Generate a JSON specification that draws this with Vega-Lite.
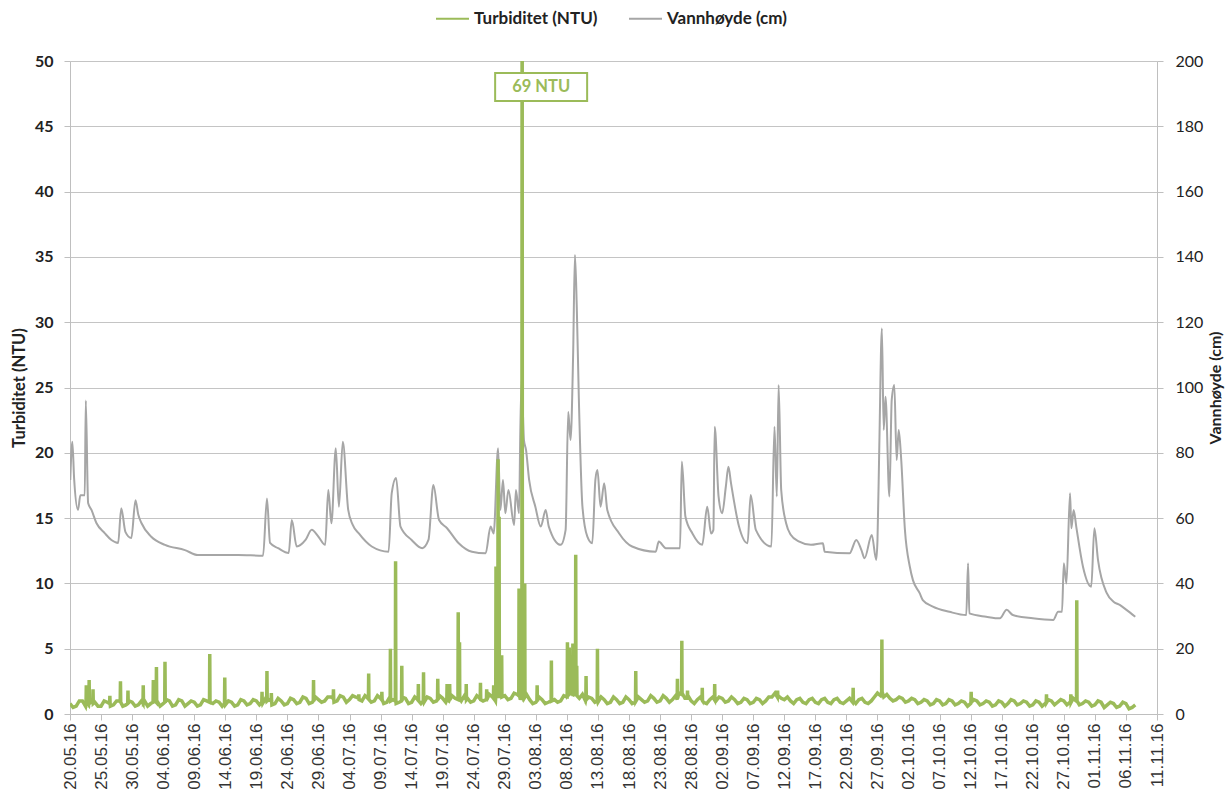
{
"$schema":"https://vega.github.io/schema/vega-lite/v6.json",
"width":1087,"height":653,
"autosize":{"type":"none"},
"padding":{"left":70,"top":61,"right":69,"bottom":82},
"background":"white",
"config":{"view":{"stroke":null},"axis":{"labelFont":"Lato","titleFont":"Lato","domainColor":"#BFBFBF","tickColor":"#BFBFBF","gridColor":"#C4C4C4","labelColor":"#222","titleColor":"#222"},
 "axisX":{"labelOverlap":false,"labelAngle":270,"labelFont":"Liberation Sans","labelFontSize":17,"labelColor":"#333","tickSize":6,"labelPadding":3,"grid":false,"labelFlush":false,"title":null}},
"datasets":{
"vann":[
{"t":"2016-05-20T01:00","v":71.7},{"t":"2016-05-20T09:00","v":83.4},{"t":"2016-05-20T16:00","v":72},{"t":"2016-05-21T07:00","v":62.5},{"t":"2016-05-21T16:00","v":67},{"t":"2016-05-22T09:00","v":67},{"t":"2016-05-22T13:00","v":96},{"t":"2016-05-22T22:00","v":64.6},{"t":"2016-05-23T11:00","v":62.5},{"t":"2016-05-24T06:00","v":58.5},{"t":"2016-05-25T14:00","v":55.4},{"t":"2016-05-26T16:00","v":53.3},{"t":"2016-05-27T18:00","v":52.4},{"t":"2016-05-28T06:00","v":63},{"t":"2016-05-28T22:00","v":55.8},{"t":"2016-05-29T21:00","v":53.9},{"t":"2016-05-30T13:00","v":65.5},{"t":"2016-05-31T00:00","v":61},{"t":"2016-05-31T12:00","v":58.5},{"t":"2016-06-02T02:00","v":54.3},{"t":"2016-06-04T07:00","v":51.8},{"t":"2016-06-07T12:00","v":50.2},{"t":"2016-06-09T14:00","v":48.7},{"t":"2016-06-16T02:00","v":48.7},{"t":"2016-06-20T02:00","v":48.5},{"t":"2016-06-20T17:00","v":66},{"t":"2016-06-21T05:00","v":52.4},{"t":"2016-06-22T12:00","v":50.8},{"t":"2016-06-24T05:00","v":49.3},{"t":"2016-06-24T17:00","v":59.4},{"t":"2016-06-25T12:00","v":51.3},{"t":"2016-06-26T22:00","v":53.3},{"t":"2016-06-27T22:00","v":56.4},{"t":"2016-06-29T00:00","v":54.3},{"t":"2016-06-30T02:00","v":51.8},{"t":"2016-06-30T14:00","v":68.6},{"t":"2016-07-01T02:00","v":58.4},{"t":"2016-07-01T19:00","v":81.4},{"t":"2016-07-02T07:00","v":63.5},{"t":"2016-07-02T22:00","v":83.4},{"t":"2016-07-03T19:00","v":62.5},{"t":"2016-07-04T12:00","v":58},{"t":"2016-07-05T12:00","v":55.3},{"t":"2016-07-07T14:00","v":51.3},{"t":"2016-07-10T07:00","v":49.7},{"t":"2016-07-10T19:00","v":67.6},{"t":"2016-07-11T12:00","v":72.3},{"t":"2016-07-12T05:00","v":57.4},{"t":"2016-07-14T00:00","v":53.3},{"t":"2016-07-15T17:00","v":50.8},{"t":"2016-07-16T17:00","v":53.3},{"t":"2016-07-17T12:00","v":70.1},{"t":"2016-07-18T10:00","v":59.4},{"t":"2016-07-19T17:00","v":56.9},{"t":"2016-07-21T14:00","v":52.3},{"t":"2016-07-23T17:00","v":49.7},{"t":"2016-07-25T22:00","v":49.2},{"t":"2016-07-26T17:00","v":57.4},{"t":"2016-07-27T05:00","v":55.3},{"t":"2016-07-27T22:00","v":81.4},{"t":"2016-07-28T07:00","v":62.5},{"t":"2016-07-28T17:00","v":71.7},{"t":"2016-07-29T02:00","v":61.5},{"t":"2016-07-29T14:00","v":68.6},{"t":"2016-07-30T12:00","v":57.9},{"t":"2016-07-30T19:00","v":68.6},{"t":"2016-07-31T07:00","v":61.5},{"t":"2016-07-31T12:00","v":87},{"t":"2016-07-31T17:00","v":102},{"t":"2016-08-01T02:00","v":83.9},{"t":"2016-08-01T10:00","v":80.9},{"t":"2016-08-01T22:00","v":71.7},{"t":"2016-08-02T22:00","v":63.5},{"t":"2016-08-03T19:00","v":57.4},{"t":"2016-08-04T14:00","v":62.5},{"t":"2016-08-05T02:00","v":57.4},{"t":"2016-08-07T00:00","v":51.8},{"t":"2016-08-07T19:00","v":56.4},{"t":"2016-08-08T05:00","v":92.6},{"t":"2016-08-08T14:00","v":83.9},{"t":"2016-08-09T00:00","v":110},{"t":"2016-08-09T07:00","v":140.6},{"t":"2016-08-09T14:00","v":125},{"t":"2016-08-09T22:00","v":97},{"t":"2016-08-10T12:00","v":63.5},{"t":"2016-08-11T07:00","v":54.3},{"t":"2016-08-12T02:00","v":52.3},{"t":"2016-08-12T14:00","v":71.7},{"t":"2016-08-12T22:00","v":74.7},{"t":"2016-08-13T10:00","v":63.5},{"t":"2016-08-14T00:00","v":70.7},{"t":"2016-08-14T12:00","v":62.5},{"t":"2016-08-16T10:00","v":55.3},{"t":"2016-08-18T12:00","v":51.3},{"t":"2016-08-22T07:00","v":49.7},{"t":"2016-08-22T19:00","v":52.8},{"t":"2016-08-23T22:00","v":50.8},{"t":"2016-08-26T05:00","v":50.8},{"t":"2016-08-26T12:00","v":77.3},{"t":"2016-08-27T02:00","v":60.4},{"t":"2016-08-28T05:00","v":55.3},{"t":"2016-08-29T19:00","v":51.8},{"t":"2016-08-30T14:00","v":63.5},{"t":"2016-08-31T05:00","v":55.3},{"t":"2016-08-31T14:00","v":56.4},{"t":"2016-08-31T19:00","v":88},{"t":"2016-09-01T10:00","v":66.6},{"t":"2016-09-02T00:00","v":61.5},{"t":"2016-09-02T14:00","v":69.6},{"t":"2016-09-03T00:00","v":75.7},{"t":"2016-09-03T10:00","v":70.7},{"t":"2016-09-04T17:00","v":57.4},{"t":"2016-09-06T02:00","v":52.3},{"t":"2016-09-06T14:00","v":67.1},{"t":"2016-09-07T10:00","v":56.4},{"t":"2016-09-09T22:00","v":51.3},{"t":"2016-09-10T10:00","v":88},{"t":"2016-09-10T19:00","v":66.6},{"t":"2016-09-11T02:00","v":100.8},{"t":"2016-09-11T12:00","v":68.6},{"t":"2016-09-12T07:00","v":58.4},{"t":"2016-09-13T00:00","v":55},{"t":"2016-09-14T10:00","v":52.8},{"t":"2016-09-16T07:00","v":51.8},{"t":"2016-09-18T05:00","v":52.3},{"t":"2016-09-18T12:00","v":49.7},{"t":"2016-09-22T12:00","v":49.2},{"t":"2016-09-23T14:00","v":53.3},{"t":"2016-09-24T10:00","v":50.2},{"t":"2016-09-24T22:00","v":47.7},{"t":"2016-09-26T02:00","v":54.8},{"t":"2016-09-26T19:00","v":47.2},{"t":"2016-09-27T00:00","v":53.3},{"t":"2016-09-27T07:00","v":81.9},{"t":"2016-09-27T17:00","v":118.1},{"t":"2016-09-28T00:00","v":87},{"t":"2016-09-28T07:00","v":97.2},{"t":"2016-09-28T22:00","v":66.6},{"t":"2016-09-29T07:00","v":96.2},{"t":"2016-09-29T17:00","v":100.8},{"t":"2016-09-30T02:00","v":77.8},{"t":"2016-09-30T10:00","v":87},{"t":"2016-09-30T19:00","v":78.8},{"t":"2016-10-01T10:00","v":56.4},{"t":"2016-10-02T05:00","v":45.1},{"t":"2016-10-02T17:00","v":41},{"t":"2016-10-03T19:00","v":37},{"t":"2016-10-04T07:00","v":34.9},{"t":"2016-10-05T22:00","v":32.9},{"t":"2016-10-08T14:00","v":31.3},{"t":"2016-10-11T07:00","v":30.3},{"t":"2016-10-11T14:00","v":46.2},{"t":"2016-10-11T19:00","v":30.8},{"t":"2016-10-14T12:00","v":29.8},{"t":"2016-10-16T17:00","v":29.3},{"t":"2016-10-17T19:00","v":31.9},{"t":"2016-10-18T19:00","v":30.3},{"t":"2016-10-22T00:00","v":29.3},{"t":"2016-10-25T07:00","v":28.8},{"t":"2016-10-26T02:00","v":31.3},{"t":"2016-10-26T17:00","v":31.3},{"t":"2016-10-27T00:00","v":46.2},{"t":"2016-10-27T10:00","v":40},{"t":"2016-10-28T00:00","v":67.6},{"t":"2016-10-28T05:00","v":56.9},{"t":"2016-10-28T14:00","v":62.5},{"t":"2016-10-29T00:00","v":57.4},{"t":"2016-10-30T02:00","v":45.1},{"t":"2016-10-31T10:00","v":39},{"t":"2016-10-31T22:00","v":56.9},{"t":"2016-11-01T12:00","v":47.2},{"t":"2016-11-02T22:00","v":37},{"t":"2016-11-04T00:00","v":34.4},{"t":"2016-11-05T00:00","v":33.4},{"t":"2016-11-06T02:00","v":31.9},{"t":"2016-11-07T12:00","v":29.8}
],
"turb":[
{"t":"2016-05-20T00:00","v":0.8},{"t":"2016-05-21T00:00","v":0.6},{"t":"2016-05-22T00:00","v":1.0},{"t":"2016-05-23T00:00","v":0.7},{"t":"2016-05-24T00:00","v":0.9},{"t":"2016-05-25T00:00","v":0.6},{"t":"2016-05-26T00:00","v":0.9},{"t":"2016-05-27T00:00","v":0.7},{"t":"2016-05-28T00:00","v":1.0},{"t":"2016-05-29T00:00","v":0.7},{"t":"2016-05-30T00:00","v":0.9},{"t":"2016-05-31T00:00","v":0.7},
{"t":"2016-06-01T00:00","v":1.0},{"t":"2016-06-02T00:00","v":0.8},{"t":"2016-06-03T00:00","v":1.0},{"t":"2016-06-04T00:00","v":0.8},{"t":"2016-06-05T00:00","v":1.0},{"t":"2016-06-06T00:00","v":0.7},{"t":"2016-06-07T00:00","v":1.0},{"t":"2016-06-08T00:00","v":0.8},{"t":"2016-06-09T00:00","v":0.9},{"t":"2016-06-10T00:00","v":0.7},{"t":"2016-06-11T00:00","v":1.0},{"t":"2016-06-12T00:00","v":0.8},{"t":"2016-06-13T00:00","v":0.9},{"t":"2016-06-14T00:00","v":0.7},{"t":"2016-06-15T00:00","v":0.9},{"t":"2016-06-16T00:00","v":0.7},{"t":"2016-06-17T00:00","v":1.0},{"t":"2016-06-18T00:00","v":0.8},{"t":"2016-06-19T00:00","v":1.0},{"t":"2016-06-20T00:00","v":0.8},{"t":"2016-06-21T00:00","v":1.1},{"t":"2016-06-22T00:00","v":0.8},{"t":"2016-06-23T00:00","v":1.0},{"t":"2016-06-24T00:00","v":0.8},{"t":"2016-06-25T00:00","v":1.1},{"t":"2016-06-26T00:00","v":0.9},{"t":"2016-06-27T00:00","v":1.2},{"t":"2016-06-28T00:00","v":0.9},{"t":"2016-06-29T00:00","v":1.1},{"t":"2016-06-30T00:00","v":1.0},
{"t":"2016-07-01T00:00","v":1.3},{"t":"2016-07-02T00:00","v":1.0},{"t":"2016-07-03T00:00","v":1.3},{"t":"2016-07-04T00:00","v":1.1},{"t":"2016-07-05T00:00","v":1.3},{"t":"2016-07-06T00:00","v":1.0},{"t":"2016-07-07T00:00","v":1.2},{"t":"2016-07-08T00:00","v":1.0},{"t":"2016-07-09T00:00","v":1.2},{"t":"2016-07-10T00:00","v":0.9},{"t":"2016-07-11T00:00","v":1.1},{"t":"2016-07-12T00:00","v":0.9},{"t":"2016-07-13T00:00","v":1.2},{"t":"2016-07-14T00:00","v":0.9},{"t":"2016-07-15T00:00","v":1.1},{"t":"2016-07-16T00:00","v":0.9},{"t":"2016-07-17T00:00","v":1.2},{"t":"2016-07-18T00:00","v":1.0},{"t":"2016-07-19T00:00","v":1.2},{"t":"2016-07-20T00:00","v":1.0},{"t":"2016-07-21T00:00","v":1.2},{"t":"2016-07-22T00:00","v":1.0},{"t":"2016-07-23T00:00","v":1.2},{"t":"2016-07-24T00:00","v":1.0},{"t":"2016-07-25T00:00","v":1.2},{"t":"2016-07-26T00:00","v":1.1},{"t":"2016-07-27T00:00","v":1.3},{"t":"2016-07-28T00:00","v":1.2},{"t":"2016-07-29T00:00","v":1.4},{"t":"2016-07-30T00:00","v":1.2},{"t":"2016-07-31T00:00","v":1.5},
{"t":"2016-08-01T00:00","v":1.2},{"t":"2016-08-02T00:00","v":1.1},{"t":"2016-08-03T00:00","v":0.9},{"t":"2016-08-04T00:00","v":1.1},{"t":"2016-08-05T00:00","v":0.9},{"t":"2016-08-06T00:00","v":1.1},{"t":"2016-08-07T00:00","v":1.0},{"t":"2016-08-08T00:00","v":1.3},{"t":"2016-08-09T00:00","v":1.5},{"t":"2016-08-10T00:00","v":1.2},{"t":"2016-08-11T00:00","v":1.0},{"t":"2016-08-12T00:00","v":1.2},{"t":"2016-08-13T00:00","v":0.9},{"t":"2016-08-14T00:00","v":1.1},{"t":"2016-08-15T00:00","v":0.9},{"t":"2016-08-16T00:00","v":1.1},{"t":"2016-08-17T00:00","v":0.9},{"t":"2016-08-18T00:00","v":1.1},{"t":"2016-08-19T00:00","v":0.9},{"t":"2016-08-20T00:00","v":1.1},{"t":"2016-08-21T00:00","v":1.0},{"t":"2016-08-22T00:00","v":1.2},{"t":"2016-08-23T00:00","v":1.0},{"t":"2016-08-24T00:00","v":1.2},{"t":"2016-08-25T00:00","v":1.1},{"t":"2016-08-26T00:00","v":1.6},{"t":"2016-08-27T00:00","v":1.2},{"t":"2016-08-28T00:00","v":1.0},{"t":"2016-08-29T00:00","v":1.1},{"t":"2016-08-30T00:00","v":0.9},{"t":"2016-08-31T00:00","v":1.1},
{"t":"2016-09-01T00:00","v":1.0},{"t":"2016-09-02T00:00","v":1.2},{"t":"2016-09-03T00:00","v":1.0},{"t":"2016-09-04T00:00","v":1.1},{"t":"2016-09-05T00:00","v":0.9},{"t":"2016-09-06T00:00","v":1.1},{"t":"2016-09-07T00:00","v":0.9},{"t":"2016-09-08T00:00","v":1.1},{"t":"2016-09-09T00:00","v":1.0},{"t":"2016-09-10T00:00","v":1.3},{"t":"2016-09-11T00:00","v":1.4},{"t":"2016-09-12T00:00","v":1.1},{"t":"2016-09-13T00:00","v":1.0},{"t":"2016-09-14T00:00","v":1.1},{"t":"2016-09-15T00:00","v":0.9},{"t":"2016-09-16T00:00","v":1.1},{"t":"2016-09-17T00:00","v":0.9},{"t":"2016-09-18T00:00","v":1.1},{"t":"2016-09-19T00:00","v":0.9},{"t":"2016-09-20T00:00","v":1.1},{"t":"2016-09-21T00:00","v":0.9},{"t":"2016-09-22T00:00","v":1.0},{"t":"2016-09-23T00:00","v":0.9},{"t":"2016-09-24T00:00","v":1.1},{"t":"2016-09-25T00:00","v":0.9},{"t":"2016-09-26T00:00","v":1.0},{"t":"2016-09-27T00:00","v":1.6},{"t":"2016-09-28T00:00","v":1.3},{"t":"2016-09-29T00:00","v":1.2},{"t":"2016-09-30T00:00","v":1.1},
{"t":"2016-10-01T00:00","v":1.2},{"t":"2016-10-02T00:00","v":1.0},{"t":"2016-10-03T00:00","v":1.1},{"t":"2016-10-04T00:00","v":0.9},{"t":"2016-10-05T00:00","v":1.0},{"t":"2016-10-06T00:00","v":0.8},{"t":"2016-10-07T00:00","v":1.0},{"t":"2016-10-08T00:00","v":0.8},{"t":"2016-10-09T00:00","v":1.0},{"t":"2016-10-10T00:00","v":0.8},{"t":"2016-10-11T00:00","v":0.9},{"t":"2016-10-12T00:00","v":0.8},{"t":"2016-10-13T00:00","v":1.0},{"t":"2016-10-14T00:00","v":0.8},{"t":"2016-10-15T00:00","v":0.9},{"t":"2016-10-16T00:00","v":0.7},{"t":"2016-10-17T00:00","v":0.9},{"t":"2016-10-18T00:00","v":0.8},{"t":"2016-10-19T00:00","v":1.0},{"t":"2016-10-20T00:00","v":0.8},{"t":"2016-10-21T00:00","v":0.9},{"t":"2016-10-22T00:00","v":0.7},{"t":"2016-10-23T00:00","v":0.9},{"t":"2016-10-24T00:00","v":0.8},{"t":"2016-10-25T00:00","v":1.0},{"t":"2016-10-26T00:00","v":0.9},{"t":"2016-10-27T00:00","v":1.0},{"t":"2016-10-28T00:00","v":0.9},{"t":"2016-10-29T00:00","v":1.0},{"t":"2016-10-30T00:00","v":0.8},{"t":"2016-10-31T00:00","v":0.9},
{"t":"2016-11-01T00:00","v":0.7},{"t":"2016-11-02T00:00","v":0.9},{"t":"2016-11-03T00:00","v":0.7},{"t":"2016-11-04T00:00","v":0.8},{"t":"2016-11-05T00:00","v":0.6},{"t":"2016-11-06T00:00","v":0.8},{"t":"2016-11-07T00:00","v":0.5},{"t":"2016-11-07T12:00","v":0.7},
{"t":"2016-05-20T12:00","v":0.5},{"t":"2016-05-21T12:00","v":1.0},{"t":"2016-05-22T12:00","v":0.6},{"t":"2016-05-23T12:00","v":1.0},{"t":"2016-05-24T12:00","v":0.6},{"t":"2016-05-25T12:00","v":1.0},{"t":"2016-05-26T12:00","v":0.6},{"t":"2016-05-27T12:00","v":1.0},{"t":"2016-05-28T12:00","v":0.6},{"t":"2016-05-29T12:00","v":1.0},{"t":"2016-05-30T12:00","v":0.6},{"t":"2016-05-31T12:00","v":1.0},
{"t":"2016-06-01T12:00","v":0.6},{"t":"2016-06-02T12:00","v":1.1},{"t":"2016-06-03T12:00","v":0.6},{"t":"2016-06-04T12:00","v":1.1},{"t":"2016-06-05T12:00","v":0.6},{"t":"2016-06-06T12:00","v":1.1},{"t":"2016-06-07T12:00","v":0.6},{"t":"2016-06-08T12:00","v":1.0},{"t":"2016-06-09T12:00","v":0.6},{"t":"2016-06-10T12:00","v":1.1},{"t":"2016-06-12T12:00","v":1.0},{"t":"2016-06-13T12:00","v":0.6},{"t":"2016-06-14T12:00","v":1.0},{"t":"2016-06-15T12:00","v":0.6},{"t":"2016-06-16T12:00","v":1.1},{"t":"2016-06-17T12:00","v":0.7},{"t":"2016-06-18T12:00","v":1.1},{"t":"2016-06-19T12:00","v":0.7},{"t":"2016-06-20T12:00","v":1.2},{"t":"2016-06-21T12:00","v":0.7},{"t":"2016-06-22T12:00","v":1.2},{"t":"2016-06-23T12:00","v":0.7},{"t":"2016-06-24T12:00","v":1.2},{"t":"2016-06-25T12:00","v":0.8},{"t":"2016-06-26T12:00","v":1.3},{"t":"2016-06-27T12:00","v":0.8},{"t":"2016-06-28T12:00","v":1.3},{"t":"2016-06-29T12:00","v":0.9},{"t":"2016-06-30T12:00","v":1.3},
{"t":"2016-07-01T12:00","v":0.9},{"t":"2016-07-02T12:00","v":1.4},{"t":"2016-07-03T12:00","v":0.9},{"t":"2016-07-04T12:00","v":1.4},{"t":"2016-07-06T12:00","v":1.4},{"t":"2016-07-07T12:00","v":0.9},{"t":"2016-07-08T12:00","v":1.4},{"t":"2016-07-09T12:00","v":0.8},{"t":"2016-07-10T12:00","v":1.3},{"t":"2016-07-11T12:00","v":0.8},{"t":"2016-07-12T12:00","v":1.3},{"t":"2016-07-13T12:00","v":0.8},{"t":"2016-07-14T12:00","v":1.3},{"t":"2016-07-15T12:00","v":0.8},{"t":"2016-07-16T12:00","v":1.3},{"t":"2016-07-17T12:00","v":0.9},{"t":"2016-07-18T12:00","v":1.4},{"t":"2016-07-19T12:00","v":0.9},{"t":"2016-07-20T12:00","v":1.4},{"t":"2016-07-22T12:00","v":1.4},{"t":"2016-07-23T12:00","v":0.9},{"t":"2016-07-24T12:00","v":1.4},{"t":"2016-07-25T12:00","v":1.0},{"t":"2016-07-26T12:00","v":1.5},{"t":"2016-07-27T12:00","v":1.0},{"t":"2016-07-29T12:00","v":1.1},{"t":"2016-07-30T12:00","v":1.6},{"t":"2016-07-31T12:00","v":1.1},
{"t":"2016-08-01T12:00","v":1.5},{"t":"2016-08-02T12:00","v":0.8},{"t":"2016-08-03T12:00","v":1.3},{"t":"2016-08-04T12:00","v":0.8},{"t":"2016-08-06T12:00","v":0.9},{"t":"2016-08-07T12:00","v":1.4},{"t":"2016-08-08T12:00","v":1.6},{"t":"2016-08-10T12:00","v":1.5},{"t":"2016-08-11T12:00","v":1.3},{"t":"2016-08-12T12:00","v":0.9},{"t":"2016-08-13T12:00","v":1.3},{"t":"2016-08-14T12:00","v":0.8},{"t":"2016-08-15T12:00","v":1.3},{"t":"2016-08-16T12:00","v":0.8},{"t":"2016-08-17T12:00","v":1.3},{"t":"2016-08-18T12:00","v":0.8},{"t":"2016-08-19T12:00","v":1.3},{"t":"2016-08-20T12:00","v":0.9},{"t":"2016-08-21T12:00","v":1.4},{"t":"2016-08-22T12:00","v":0.9},{"t":"2016-08-23T12:00","v":1.4},{"t":"2016-08-24T12:00","v":0.9},{"t":"2016-08-25T12:00","v":1.4},{"t":"2016-08-27T12:00","v":1.4},{"t":"2016-08-28T12:00","v":0.8},{"t":"2016-08-29T12:00","v":1.3},{"t":"2016-08-30T12:00","v":0.8},{"t":"2016-08-31T12:00","v":1.3},
{"t":"2016-09-01T12:00","v":1.3},{"t":"2016-09-02T12:00","v":0.9},{"t":"2016-09-03T12:00","v":1.3},{"t":"2016-09-04T12:00","v":0.8},{"t":"2016-09-05T12:00","v":1.2},{"t":"2016-09-06T12:00","v":0.8},{"t":"2016-09-07T12:00","v":1.2},{"t":"2016-09-08T12:00","v":0.8},{"t":"2016-09-09T12:00","v":1.3},{"t":"2016-09-10T12:00","v":1.6},{"t":"2016-09-11T12:00","v":1.2},{"t":"2016-09-12T12:00","v":1.3},{"t":"2016-09-13T12:00","v":0.8},{"t":"2016-09-14T12:00","v":1.2},{"t":"2016-09-15T12:00","v":0.8},{"t":"2016-09-16T12:00","v":1.2},{"t":"2016-09-17T12:00","v":0.8},{"t":"2016-09-18T12:00","v":1.2},{"t":"2016-09-19T12:00","v":0.8},{"t":"2016-09-20T12:00","v":1.2},{"t":"2016-09-21T12:00","v":0.8},{"t":"2016-09-22T12:00","v":1.2},{"t":"2016-09-23T12:00","v":0.8},{"t":"2016-09-24T12:00","v":1.2},{"t":"2016-09-25T12:00","v":0.8},{"t":"2016-09-26T12:00","v":1.3},{"t":"2016-09-27T12:00","v":1.4},{"t":"2016-09-28T12:00","v":1.5},{"t":"2016-09-29T12:00","v":1.0},{"t":"2016-09-30T12:00","v":1.3},
{"t":"2016-10-01T12:00","v":0.9},{"t":"2016-10-02T12:00","v":1.2},{"t":"2016-10-03T12:00","v":0.8},{"t":"2016-10-04T12:00","v":1.1},{"t":"2016-10-05T12:00","v":0.7},{"t":"2016-10-06T12:00","v":1.1},{"t":"2016-10-07T12:00","v":0.7},{"t":"2016-10-08T12:00","v":1.1},{"t":"2016-10-09T12:00","v":0.7},{"t":"2016-10-10T12:00","v":1.0},{"t":"2016-10-11T12:00","v":0.6},{"t":"2016-10-12T12:00","v":1.1},{"t":"2016-10-13T12:00","v":0.7},{"t":"2016-10-14T12:00","v":1.0},{"t":"2016-10-15T12:00","v":0.6},{"t":"2016-10-16T12:00","v":1.0},{"t":"2016-10-17T12:00","v":0.6},{"t":"2016-10-18T12:00","v":1.1},{"t":"2016-10-19T12:00","v":0.7},{"t":"2016-10-20T12:00","v":1.0},{"t":"2016-10-21T12:00","v":0.6},{"t":"2016-10-22T12:00","v":1.0},{"t":"2016-10-23T12:00","v":0.6},{"t":"2016-10-24T12:00","v":1.1},{"t":"2016-10-25T12:00","v":0.7},{"t":"2016-10-26T12:00","v":1.1},{"t":"2016-10-27T12:00","v":0.7},{"t":"2016-10-28T12:00","v":1.2},{"t":"2016-10-29T12:00","v":0.7},{"t":"2016-10-30T12:00","v":1.0},{"t":"2016-10-31T12:00","v":0.6},
{"t":"2016-11-01T12:00","v":1.0},{"t":"2016-11-02T12:00","v":0.5},{"t":"2016-11-03T12:00","v":0.9},{"t":"2016-11-04T12:00","v":0.5},{"t":"2016-11-05T12:00","v":0.9},{"t":"2016-11-06T12:00","v":0.4},
{"t":"2016-05-22T14:00","v":0.9},{"t":"2016-05-22T15:00","v":2.2},{"t":"2016-05-22T16:00","v":0.9},
{"t":"2016-05-23T01:00","v":0.9},{"t":"2016-05-23T02:00","v":2.6},{"t":"2016-05-23T03:00","v":0.8},
{"t":"2016-05-23T16:00","v":0.8},{"t":"2016-05-23T17:00","v":1.9},{"t":"2016-05-23T18:00","v":0.8},
{"t":"2016-05-26T09:00","v":0.8},{"t":"2016-05-26T10:00","v":1.4},{"t":"2016-05-26T11:00","v":0.8},
{"t":"2016-05-28T02:00","v":1.0},{"t":"2016-05-28T03:00","v":2.5},{"t":"2016-05-28T04:00","v":0.9},
{"t":"2016-05-29T07:00","v":0.8},{"t":"2016-05-29T08:00","v":1.8},{"t":"2016-05-29T09:00","v":0.8},
{"t":"2016-05-31T18:00","v":0.8},{"t":"2016-05-31T19:00","v":2.2},{"t":"2016-05-31T20:00","v":0.9},
{"t":"2016-06-02T09:00","v":0.9},{"t":"2016-06-02T10:00","v":2.6},{"t":"2016-06-02T11:00","v":0.9},
{"t":"2016-06-02T21:00","v":0.9},{"t":"2016-06-02T22:00","v":3.6},{"t":"2016-06-02T23:00","v":1.0},
{"t":"2016-06-04T06:00","v":0.9},{"t":"2016-06-04T07:00","v":4.0},{"t":"2016-06-04T08:00","v":0.9},
{"t":"2016-06-11T11:00","v":0.9},{"t":"2016-06-11T12:00","v":4.6},{"t":"2016-06-11T13:00","v":0.9},
{"t":"2016-06-13T21:00","v":0.8},{"t":"2016-06-13T22:00","v":2.8},{"t":"2016-06-13T23:00","v":0.8},
{"t":"2016-06-19T21:00","v":0.9},{"t":"2016-06-19T22:00","v":1.7},{"t":"2016-06-19T23:00","v":0.9},
{"t":"2016-06-20T16:00","v":0.9},{"t":"2016-06-20T17:00","v":3.3},{"t":"2016-06-20T18:00","v":1.0},
{"t":"2016-06-21T09:00","v":1.0},{"t":"2016-06-21T10:00","v":1.6},{"t":"2016-06-21T11:00","v":1.0},
{"t":"2016-06-28T04:00","v":1.0},{"t":"2016-06-28T05:00","v":2.6},{"t":"2016-06-28T06:00","v":1.0},
{"t":"2016-07-01T09:00","v":1.2},{"t":"2016-07-01T10:00","v":1.9},{"t":"2016-07-01T11:00","v":1.2},
{"t":"2016-07-05T11:00","v":1.2},{"t":"2016-07-05T12:00","v":1.5},{"t":"2016-07-05T13:00","v":1.1},
{"t":"2016-07-07T01:00","v":1.1},{"t":"2016-07-07T02:00","v":3.1},{"t":"2016-07-07T03:00","v":1.1},
{"t":"2016-07-09T04:00","v":1.1},{"t":"2016-07-09T05:00","v":1.7},{"t":"2016-07-09T06:00","v":1.1},
{"t":"2016-07-10T13:00","v":1.0},{"t":"2016-07-10T14:00","v":5.0},{"t":"2016-07-10T15:00","v":1.0},
{"t":"2016-07-11T09:00","v":1.0},{"t":"2016-07-11T10:00","v":11.7},{"t":"2016-07-11T11:00","v":1.0},
{"t":"2016-07-12T09:00","v":1.0},{"t":"2016-07-12T10:00","v":3.7},{"t":"2016-07-12T11:00","v":1.0},
{"t":"2016-07-15T01:00","v":1.0},{"t":"2016-07-15T02:00","v":2.3},{"t":"2016-07-15T03:00","v":1.0},
{"t":"2016-07-15T21:00","v":1.0},{"t":"2016-07-15T22:00","v":3.2},{"t":"2016-07-15T23:00","v":1.0},
{"t":"2016-07-18T04:00","v":1.1},{"t":"2016-07-18T05:00","v":2.7},{"t":"2016-07-18T06:00","v":1.1},
{"t":"2016-07-19T16:00","v":1.1},{"t":"2016-07-19T17:00","v":2.3},{"t":"2016-07-19T18:00","v":1.1},
{"t":"2016-07-20T02:00","v":1.1},{"t":"2016-07-20T03:00","v":2.3},{"t":"2016-07-20T04:00","v":1.1},
{"t":"2016-07-21T11:00","v":1.1},{"t":"2016-07-21T12:00","v":7.8},{"t":"2016-07-21T13:00","v":1.2},{"t":"2016-07-21T16:00","v":1.2},{"t":"2016-07-21T17:00","v":5.5},{"t":"2016-07-21T18:00","v":1.2},
{"t":"2016-07-22T18:00","v":1.1},{"t":"2016-07-22T19:00","v":2.3},{"t":"2016-07-22T20:00","v":1.1},
{"t":"2016-07-25T01:00","v":1.1},{"t":"2016-07-25T02:00","v":2.4},{"t":"2016-07-25T03:00","v":1.1},
{"t":"2016-07-26T01:00","v":1.1},{"t":"2016-07-26T02:00","v":1.9},{"t":"2016-07-26T03:00","v":1.1},
{"t":"2016-07-27T04:00","v":1.2},{"t":"2016-07-27T05:00","v":2.2},{"t":"2016-07-27T06:00","v":1.2},{"t":"2016-07-27T13:00","v":1.3},{"t":"2016-07-27T14:00","v":11.3},{"t":"2016-07-27T15:00","v":1.5},{"t":"2016-07-27T21:00","v":1.5},{"t":"2016-07-27T22:00","v":19.5},{"t":"2016-07-27T23:00","v":3.0},
{"t":"2016-07-28T01:00","v":2.0},{"t":"2016-07-28T02:00","v":15.1},{"t":"2016-07-28T03:00","v":2.0},{"t":"2016-07-28T11:00","v":1.4},{"t":"2016-07-28T12:00","v":4.5},{"t":"2016-07-28T13:00","v":1.3},
{"t":"2016-07-31T06:00","v":1.4},{"t":"2016-07-31T07:00","v":9.6},{"t":"2016-07-31T08:00","v":1.5},{"t":"2016-07-31T18:00","v":1.5},{"t":"2016-07-31T19:00","v":69},{"t":"2016-07-31T20:00","v":1.5},
{"t":"2016-08-01T04:00","v":1.3},{"t":"2016-08-01T05:00","v":10.0},{"t":"2016-08-01T06:00","v":1.3},
{"t":"2016-08-03T04:00","v":1.0},{"t":"2016-08-03T05:00","v":2.2},{"t":"2016-08-03T06:00","v":1.0},
{"t":"2016-08-05T11:00","v":1.0},{"t":"2016-08-05T12:00","v":4.1},{"t":"2016-08-05T13:00","v":1.0},
{"t":"2016-08-08T01:00","v":1.3},{"t":"2016-08-08T02:00","v":5.5},{"t":"2016-08-08T03:00","v":1.4},{"t":"2016-08-08T08:00","v":1.5},{"t":"2016-08-08T09:00","v":5.1},{"t":"2016-08-08T10:00","v":1.5},{"t":"2016-08-08T22:00","v":1.5},{"t":"2016-08-08T23:00","v":5.4},
{"t":"2016-08-09T09:00","v":1.5},{"t":"2016-08-09T10:00","v":12.2},{"t":"2016-08-09T11:00","v":1.6},{"t":"2016-08-09T13:00","v":1.5},{"t":"2016-08-09T14:00","v":3.7},{"t":"2016-08-09T15:00","v":1.4},
{"t":"2016-08-11T01:00","v":1.1},{"t":"2016-08-11T02:00","v":2.9},{"t":"2016-08-11T03:00","v":1.1},
{"t":"2016-08-12T21:00","v":1.0},{"t":"2016-08-12T22:00","v":5.0},{"t":"2016-08-12T23:00","v":1.0},
{"t":"2016-08-19T01:00","v":1.0},{"t":"2016-08-19T02:00","v":3.3},{"t":"2016-08-19T03:00","v":1.0},
{"t":"2016-08-25T18:00","v":1.1},{"t":"2016-08-25T19:00","v":2.7},{"t":"2016-08-25T20:00","v":1.2},
{"t":"2016-08-26T11:00","v":1.5},{"t":"2016-08-26T12:00","v":5.6},{"t":"2016-08-26T13:00","v":1.6},
{"t":"2016-08-27T09:00","v":1.2},{"t":"2016-08-27T10:00","v":1.8},{"t":"2016-08-27T11:00","v":1.2},
{"t":"2016-08-29T18:00","v":1.1},{"t":"2016-08-29T19:00","v":2.0},{"t":"2016-08-29T20:00","v":1.0},
{"t":"2016-08-31T18:00","v":1.1},{"t":"2016-08-31T19:00","v":2.3},{"t":"2016-08-31T20:00","v":1.1},
{"t":"2016-09-10T21:00","v":1.3},{"t":"2016-09-10T22:00","v":1.8},{"t":"2016-09-10T23:00","v":1.4},
{"t":"2016-09-23T01:00","v":1.0},{"t":"2016-09-23T02:00","v":2.0},{"t":"2016-09-23T03:00","v":1.0},
{"t":"2016-09-27T16:00","v":1.6},{"t":"2016-09-27T17:00","v":5.7},{"t":"2016-09-27T18:00","v":1.7},
{"t":"2016-10-12T01:00","v":0.9},{"t":"2016-10-12T02:00","v":1.7},{"t":"2016-10-12T03:00","v":0.9},
{"t":"2016-10-24T04:00","v":0.9},{"t":"2016-10-24T05:00","v":1.5},{"t":"2016-10-24T06:00","v":0.9},
{"t":"2016-10-28T02:00","v":0.9},{"t":"2016-10-28T03:00","v":1.5},{"t":"2016-10-28T04:00","v":0.9},
{"t":"2016-10-29T01:00","v":1.0},{"t":"2016-10-29T02:00","v":8.7},{"t":"2016-10-29T03:00","v":1.0}
],
"ann":[{"t":"2016-07-31T19:00","v":48,"label":"69 NTU"}]
},
"layer":[
{"data":{"name":"vann"},
 "mark":{"type":"line","strokeWidth":2,"clip":true,"interpolate":"monotone"},
 "encoding":{
  "x":{"field":"t","type":"temporal",
   "scale":{"domain":[{"year":2016,"month":5,"date":20},{"year":2016,"month":11,"date":11}],"nice":false},
   "axis":{"title":null,"format":"%d.%m.%y","labelOverlap":false,"labelAngle":270,"tickCount":100,
    "values":[{"year":2016,"month":5,"date":20},{"year":2016,"month":5,"date":25},{"year":2016,"month":5,"date":30},{"year":2016,"month":6,"date":4},{"year":2016,"month":6,"date":9},{"year":2016,"month":6,"date":14},{"year":2016,"month":6,"date":19},{"year":2016,"month":6,"date":24},{"year":2016,"month":6,"date":29},{"year":2016,"month":7,"date":4},{"year":2016,"month":7,"date":9},{"year":2016,"month":7,"date":14},{"year":2016,"month":7,"date":19},{"year":2016,"month":7,"date":24},{"year":2016,"month":7,"date":29},{"year":2016,"month":8,"date":3},{"year":2016,"month":8,"date":8},{"year":2016,"month":8,"date":13},{"year":2016,"month":8,"date":18},{"year":2016,"month":8,"date":23},{"year":2016,"month":8,"date":28},{"year":2016,"month":9,"date":2},{"year":2016,"month":9,"date":7},{"year":2016,"month":9,"date":12},{"year":2016,"month":9,"date":17},{"year":2016,"month":9,"date":22},{"year":2016,"month":9,"date":27},{"year":2016,"month":10,"date":2},{"year":2016,"month":10,"date":7},{"year":2016,"month":10,"date":12},{"year":2016,"month":10,"date":17},{"year":2016,"month":10,"date":22},{"year":2016,"month":10,"date":27},{"year":2016,"month":11,"date":1},{"year":2016,"month":11,"date":6},{"year":2016,"month":11,"date":11}]}},
  "y":{"field":"v","type":"quantitative","scale":{"domain":[0,200],"nice":false},
   "axis":{"orient":"right","title":"Vannhøyde (cm)","values":[0,20,40,60,80,100,120,140,160,180,200],"grid":false,"labelFontSize":16,"tickSize":6,"labelPadding":12,"titleFontSize":16,"titleFontWeight":"bold","titleAngle":270,"titleBaseline":"top","titlePadding":5}},
  "color":{"datum":"Vannhøyde (cm)","type":"nominal",
   "scale":{"domain":["Turbiditet (NTU)","Vannhøyde (cm)"],"range":["#9BBB59","#A6A6A6"]},
   "legend":{"orient":"none","legendX":365,"legendY":-60,"direction":"horizontal","title":null,"symbolType":"stroke","symbolSize":1089,"symbolStrokeWidth":2,"labelFont":"Lato","labelFontSize":17,"labelFontWeight":"bold","labelColor":"#222","columnPadding":27,"labelOffset":4}}
 }},
{"data":{"name":"turb"},
 "mark":{"type":"line","strokeWidth":3.5,"clip":true},
 "encoding":{
  "x":{"field":"t","type":"temporal","axis":{"labelOverlap":false,"tickCount":100}},
  "y":{"field":"v","type":"quantitative","scale":{"domain":[0,50],"nice":false},
   "axis":{"orient":"left","title":"Turbiditet (NTU)","values":[0,5,10,15,20,25,30,35,40,45,50],"grid":true,"labelFontSize":16,"labelFontWeight":"bold","tickSize":6,"labelPadding":11,"titleFontSize":16.5,"titleFontWeight":"bold","titlePadding":7}},
  "color":{"datum":"Turbiditet (NTU)","type":"nominal"}
 }},
{"data":{"name":"ann"},
 "mark":{"type":"rect","fill":"white","stroke":"#9BBB59","strokeWidth":2,"width":92,"height":28,"xOffset":19},
 "encoding":{
  "x":{"field":"t","type":"temporal","axis":{"labelOverlap":false,"tickCount":100}},
  "y":{"field":"v","type":"quantitative","scale":{"domain":[0,50],"nice":false},"axis":null}
 }},
{"data":{"name":"ann"},
 "mark":{"type":"text","color":"#9BBB59","font":"Lato","fontWeight":"bold","fontSize":16.5,"dx":19,"align":"center","baseline":"middle"},
 "encoding":{
  "x":{"field":"t","type":"temporal","axis":{"labelOverlap":false,"tickCount":100}},
  "y":{"field":"v","type":"quantitative","scale":{"domain":[0,50],"nice":false},"axis":null},
  "text":{"field":"label"}
 }}
],
"resolve":{"scale":{"y":"independent"}}
}
